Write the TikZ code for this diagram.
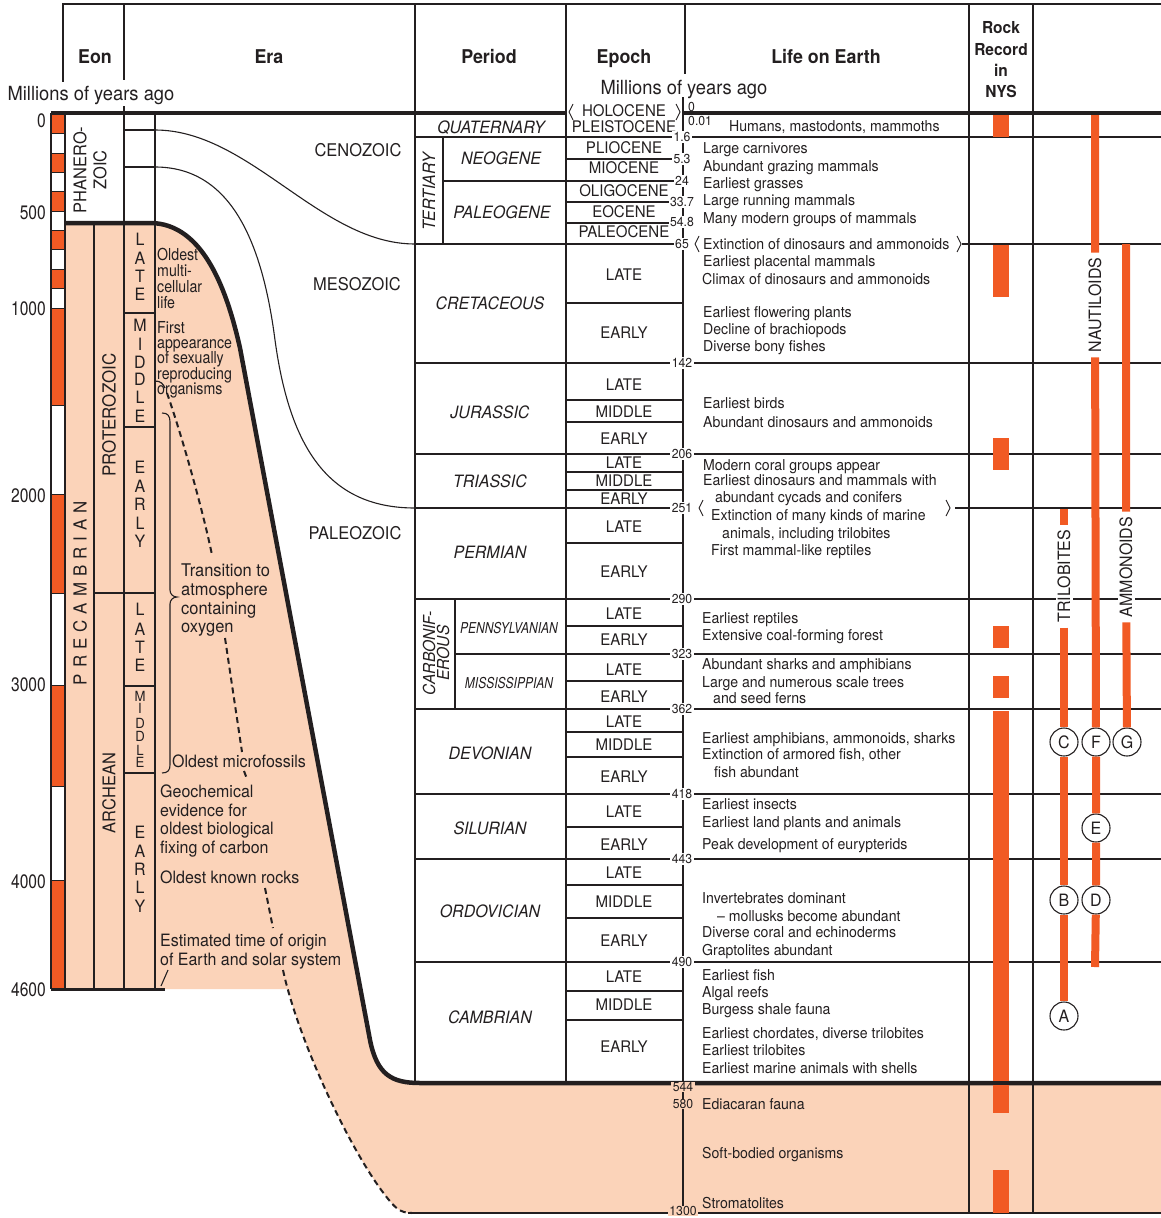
\documentclass[tikz,border=0pt]{standalone}
\usepackage{fontspec}
\setmainfont[FakeStretch=0.94]{TeX Gyre Heros}
\newfontfamily\fcond[FakeStretch=0.8]{TeX Gyre Heros}
\newfontfamily\fcondb[FakeStretch=0.86]{TeX Gyre Heros}
\definecolor{peach}{HTML}{FBD3B9}
\definecolor{orng}{HTML}{F15A24}
\definecolor{ink}{HTML}{231F20}
\newcommand\myfs[1]{\fontsize{#1}{#1}\selectfont}
\newcommand\lsp{\hspace{6pt}}
\tikzset{
 every node/.style={inner sep=0pt, text=ink},
 L/.style={anchor=base west, font=\myfs{#1}, yshift={-0.36*#1pt}},
 C/.style={anchor=base, font=\myfs{#1}, yshift={-0.36*#1pt}},
 R/.style={anchor=base east, font=\myfs{#1}, yshift={-0.36*#1pt}},
 CI/.style={C=#1, font=\myfs{#1}\itshape},
 CB/.style={C=#1, font=\myfs{#1}\bfseries},
 RC/.style={R=#1, font=\fcond\myfs{#1}},
 CIC/.style={C=#1, font=\fcond\myfs{#1}\itshape},
 LB/.style={anchor=base west, font=\myfs{#1}},
 LBC/.style={anchor=base west, font=\fcondb\myfs{#1}},
 tl/.style={draw=ink, line width=1.1pt},
 vl/.style={draw=ink, line width=2pt},
 heavy/.style={draw=ink, line width=4.5pt},
 ax/.style={C=13, fill=white, inner xsep=1.5pt, inner ysep=1pt},
 axp/.style={ax, fill=peach},
 circ/.style={circle, draw=ink, line width=1.1pt, fill=white, minimum size=28pt, font=\myfs{17}},
 bar/.style={draw=orng, line width=8pt},
 rlab/.style={rotate=90, fill=white, inner xsep=5pt, inner ysep=2pt, font=\myfs{17}},
 brk/.style={draw=ink, line width=0.9pt},
}
\begin{document}
\begin{tikzpicture}[x=1pt,y=-1pt]
\useasboundingbox (0,0) rectangle (1161,1218);
% ---------- peach areas
\fill[peach] (65,223) -- (150,223) .. controls (205,223) and (228,295) .. (240,348) -- (360.5,989) -- (65,989) -- cycle;
\fill[peach] (283,970) -- (357,970) -- (370,1040) .. controls (377,1075) and (392,1083) .. (420,1083) -- (1161,1083) -- (1161,1213) -- (412,1213) .. controls (400,1213) and (395,1208) .. (385,1195) .. controls (350,1150) and (298,1040) .. (283,970) -- cycle;
% ---------- time scale bar
\foreach \a/\b/\c in {113/133/orng,133/153/white,153/172/orng,172/191/white,191/211/orng,211/230/white,230/249/orng,249/269/white,269/288/orng,288/308/white,308/405/orng,405/494/white,494/593/orng,593/685/white,685/786/orng,786/880/white,880/989/orng}
  \filldraw[fill=\c, draw=ink, line width=1pt] (51,\a) rectangle (65,\b);
\draw[vl] (51,113) -- (51,989) (65,113) -- (65,989);
% ---------- left chart lines
\draw[vl] (63,4) -- (63,82) (124,4) -- (124,80) (124,106) -- (124,989) (94,223) -- (94,989) (155,113) -- (155,989);
\draw[tl] (124,130) -- (155,130) (124,167) -- (155,167);
\draw[vl] (94,593) -- (155,593) (124,313) -- (155,313) (124,427) -- (155,427) (124,686) -- (155,686) (124,773) -- (155,773);
% ---------- table frame
\draw[ink, line width=2.5pt] (62,4) -- (1161,4);
\draw[vl] (415,4) -- (415,1083) (566,4) -- (566,1083) (685,4) -- (685,74) (969,4) -- (969,1213) (1033,4) -- (1033,1213);
\draw[tl] (443,137) -- (443,244) (455,599) -- (455,709);
\foreach \y in {137,363,454,599,709,794,859,962} \draw[tl] (415,\y) -- (1161,\y);
\draw[tl] (455,654) -- (1161,654);
\draw[tl] (415,244) -- (685,244) (962,244) -- (1161,244);
\draw[tl] (415,508) -- (685,508) (955,508) -- (1161,508);
\draw[tl] (443,181) -- (683,181);
\foreach \y in {159,202,223,303,400,422,472,490,543,626,681,732,757,827,885,918,991,1020} \draw[tl] (566,\y) -- (683,\y);
\draw[tl] (408,1213) -- (1161,1213);
% ---------- era curves
\draw[tl] (155,130) .. controls (250,130) and (320,244) .. (415,244);
\draw[tl] (155,167) .. controls (230,167) and (262,240) .. (275,340) .. controls (290,450) and (330,508) .. (415,508);
% ---------- dashed line, brace, tick
\draw[ink, line width=1.2pt] (155,381) .. controls (161,381) and (163,384) .. (165,388);
\draw[ink, line width=2pt, dash pattern=on 6pt off 4pt]
  (167,393) .. controls (185,445) and (205,520) .. (212,555)
  (225,638) -- (242,752)
  (244,771) -- (247,779)
  (265,888) -- (273,928)
  (283,970) .. controls (298,1040) and (350,1150) .. (385,1195) .. controls (395,1208) and (400,1213) .. (412,1213);
\draw[ink, line width=1.1pt] (162,413) .. controls (168,413) and (170,416) .. (170,422) -- (170,590) .. controls (170,594) and (173,597) .. (177,597) .. controls (173,597) and (170,600) .. (170,604) -- (170,765) .. controls (170,770) and (168,773) .. (162,773);
\draw[tl] (161,986) -- (168,970);
% ---------- angle brackets
\draw[brk] (573,104) -- (569,112) -- (573,120);
\draw[brk] (676,104) -- (680,112) -- (676,120);
\draw[brk] (699,236) -- (695,244) -- (699,252);
\draw[brk] (957,236) -- (961,244) -- (957,252);
\draw[brk] (703,500) -- (699,508) -- (703,516);
\draw[brk] (946,500) -- (950,508) -- (946,516);
% ---------- headers
\node[CB=19] (hEon) at (95,57) {Eon};
\node[CB=19] (hEra) at (269,57) {Era};
\node[CB=19] (hPer) at (489,57) {Period};
\node[CB=19] (hEpo) at (624,57) {Epoch};
\node[CB=19] (hLife) at (826,57) {Life on Earth};
\foreach \t/\y [count=\i] in {Rock/28,Record/50,in/71,NYS/92} \node[CB=16.5] (hRock\i) at (1001,\y) {\t};
\node[C=19.5] (myaL) at (91,93) {Millions of years ago};
\node[C=19.5] (myaR) at (684,87) {Millions of years ago};
% ---------- left tick labels
\foreach \y/\t [count=\i] in {120/0,212/500,308/1000,495/2000,684/3000,881/4000,989/4600} \node[RC=19.5] (tk\i) at (46,\y) {\t};
% ---------- eon / era labels
\node[rotate=90, align=center, font=\fontsize{17.5}{20}\selectfont] (phan) at (90,170) {PHANERO-\\ZOIC};
\node[rotate=90, font=\myfs{18}] (prec) at (80,593) {P\lsp R\lsp E\lsp C\lsp A\lsp M\lsp B\lsp R\lsp I\lsp A\lsp N};
\node[rotate=90, font=\myfs{18}] (prot) at (109,415) {PROTEROZOIC};
\node[rotate=90, font=\myfs{17.5}] (arch) at (109,793) {ARCHEAN};
\foreach \l/\y [count=\i] in {L/239,A/258,T/276,E/294,M/325,I/344,D/362,D/379,L/397,E/416,E/467,A/486,R/504,L/523,Y/541,L/609,A/629,T/647,E/665,E/832,A/851,R/869,L/887,Y/906}
  \node[C=17] (sl\i) at (140,\y) {\l};
\foreach \l/\y [count=\i] in {M/696,I/708,D/723,D/736,L/750,E/762}
  \node[C=14] (sm\i) at (140,\y) {\l};
\node[C=17.5] (ceno) at (358,150) {CENOZOIC};
\node[C=17.5] (meso) at (357,284) {MESOZOIC};
\node[C=17.5] (paleo) at (355,533) {PALEOZOIC};
% ---------- peach-area texts
\foreach \t/\y [count=\i] in {Oldest/260,multi-/276,cellular/292,life/308,First/333,appearance/348,of sexually/363,reproducing/379,organisms/394}
  \node[LBC=16.5] (pc\i) at (157,\y) {\t};
\foreach \t/\y [count=\i] in {Transition to/576,atmosphere/595,containing/614,oxygen/632}
  \node[LB=17.5] (tr\i) at (181,\y) {\t};
\node[LB=17] (micro) at (172,767) {Oldest microfossils};
\foreach \t/\y [count=\i] in {Geochemical/797,evidence for/816,oldest biological/834,fixing of carbon/853,Oldest known rocks/883,Estimated time of origin/946,of Earth and solar system/965}
  \node[LB=17] (gc\i) at (160,\y) {\t};
% ---------- periods
\node[CI=17] (quat) at (491,127) {QUATERNARY};
\node[rotate=90, font=\myfs{17}\itshape] (tert) at (429,192) {TERTIARY};
\node[CI=17] (neog) at (501,158) {NEOGENE};
\node[CI=17] (paleog) at (502,212) {PALEOGENE};
\foreach \y/\t [count=\i] in {303/CRETACEOUS,412/JURASSIC,481/TRIASSIC,552/PERMIAN,753/DEVONIAN,828/SILURIAN,911/ORDOVICIAN,1017/CAMBRIAN}
  \node[CI=17] (per\i) at (490,\y) {\t};
\node[rotate=90, align=center, font=\fontsize{16.5}{14}\selectfont\itshape] (carb) at (436,653) {CARBONIF-\\EROUS};
\node[CIC=15] (penn) at (509,628) {PENNSYLVANIAN};
\node[CIC=15] (miss) at (509,683) {MISSISSIPPIAN};
% ---------- epochs
\foreach \y/\t [count=\i] in {111/HOLOCENE,127/PLEISTOCENE,148/PLIOCENE,168/MIOCENE,191/OLIGOCENE,212/EOCENE,232/PALEOCENE,275/LATE,333/EARLY,385/LATE,412/MIDDLE,439/EARLY,463/LATE,481/MIDDLE,499/EARLY,527/LATE,572/EARLY,614/LATE,640/EARLY,670/LATE,697/EARLY,722/LATE,745/MIDDLE,777/EARLY,812/LATE,845/EARLY,873/LATE,902/MIDDLE,941/EARLY,977/LATE,1005/MIDDLE,1047/EARLY}
  \node[C=16] (ep\i) at (624,\y) {\t};
% ---------- life on earth
\foreach \y/\x/\t [count=\i] in {126/729/{Humans, mastodonts, mammoths},148/703/Large carnivores,166/703/Abundant grazing mammals,183/703/Earliest grasses,200/703/Large running mammals,218/703/Many modern groups of mammals,244/703/Extinction of dinosaurs and ammonoids,261/703/Earliest placental mammals,279/702/Climax of dinosaurs and ammonoids,312/703/Earliest flowering plants,329/703/Decline of brachiopods,346/703/Diverse bony fishes,403/703/Earliest birds,422/703/Abundant dinosaurs and ammonoids,465/703/Modern coral groups appear,480/703/Earliest dinosaurs and mammals with,497/715/abundant cycads and conifers,515/711/Extinction of many kinds of marine,533/722/{animals, including trilobites},550/711/First mammal-like reptiles,618/702/Earliest reptiles,635/702/Extensive coal-forming forest,664/702/Abundant sharks and amphibians,682/702/Large and numerous scale trees,698/713/and seed ferns,738/702/{Earliest amphibians, ammonoids, sharks},754/702/{Extinction of armored fish, other},772/714/fish abundant,804/702/Earliest insects,822/702/Earliest land plants and animals,844/702/Peak development of eurypterids,898/702/Invertebrates dominant,916/717/\textendash{} mollusks become abundant,932/702/Diverse coral and echinoderms,950/702/Graptolites abundant,975/702/Earliest fish,992/702/Algal reefs,1009/702/Burgess shale fauna,1033/702/{Earliest chordates, diverse trilobites},1050/702/Earliest trilobites,1068/702/Earliest marine animals with shells,1104/702/Ediacaran fauna,1153/702/Soft-bodied organisms,1203/702/Stromatolites}
  \node[L=15] (life\i) at (\x,\y) {\t};
% ---------- heavy lines
\draw[ink, line width=4pt] (51,113) -- (566,113) (683,113) -- (1161,113);
\draw[heavy, line join=round] (65,223) -- (150,223) .. controls (205,223) and (228,295) .. (240,348) -- (370,1040) .. controls (377,1075) and (392,1083) .. (420,1083) -- (1161,1083);
\draw[ink, line width=3pt] (51,989) -- (165,989);
% ---------- time axis
\draw[ink, line width=2.6pt] (683,97) -- (683,1213);
\node[L=13] (a0) at (688,107) {0};
\node[L=13] (a001) at (688,121) {0.01};
\foreach \y/\t [count=\i] in {137/1.6,159/5.3,181/24,202/33.7,222/54.8,244/65,363/142,454/206,508/251,599/290,654/323,709/362,794/418,859/443,962/490}
  \node[ax] (ax\i) at (682,\y) {\t};
\foreach \y/\t [count=\i] in {1087/544,1104/580,1211/1300}
  \node[axp, inner ysep=0.5pt] (axp\i) at (683,\y) {\t};
% ---------- rock record
\foreach \a/\b in {115/137,245/297,438/470,626/648,676/698,711/1113,1170/1213}
  \fill[orng] (993,\a) rectangle (1009,\b);
\draw[ink, line width=4pt] (969,1083) -- (1161,1083);
% ---------- fossil ranges
\node[rlab] (trl) at (1064,576) {TRILOBITES};
\node[rlab] (naul) at (1095,305) {NAUTILOIDS};
\node[rlab] (aml) at (1126,567) {AMMONOIDS};
\node[circ] (cC) at (1064,742) {C};
\node[circ] (cF) at (1096,742) {F};
\node[circ] (cG) at (1127,742) {G};
\node[circ] (cE) at (1096,828) {E};
\node[circ] (cB) at (1064,900) {B};
\node[circ] (cD) at (1096,900) {D};
\node[circ] (cA) at (1064,1016) {A};
\coordinate (trtop) at (1064,509);
\coordinate (nautop) at (1095,115);
\coordinate (naubot) at (1095,967);
\coordinate (amtop) at (1126,244);
\draw[bar] (trtop) -- (trl) -- (cC) -- (cB) -- (cA);
\draw[bar] (nautop) -- (naul) -- (cF) -- (cE) -- (cD) -- (naubot);
\draw[bar] (amtop) -- (aml) -- (cG);
\end{tikzpicture}
\end{document}
